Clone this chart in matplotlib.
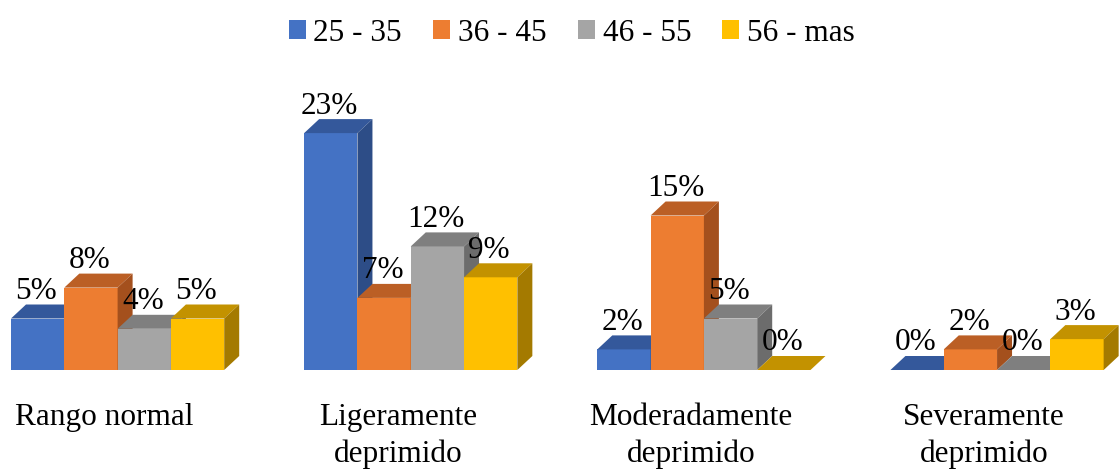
#!/usr/bin/env python3

import matplotlib
matplotlib.use("Agg")
import matplotlib.pyplot as plt
from matplotlib.patches import Polygon, Patch

# data (percent)
categories = ["Rango normal", "Ligeramente\ndeprimido",
              "Moderadamente\ndeprimido", "Severamente\ndeprimido"]
ranges = ["25 - 35", "36 - 45", "46 - 55", "56 - mas"]
v_25_35 = [5, 23, 2, 0]
v_36_45 = [8, 7, 15, 2]
v_46_55 = [4, 12, 5, 0]
v_56_mas = [5, 9, 0, 3]

# front / top / side shades, Excel style
FRONT = ["#4472C4", "#ED7D31", "#A5A5A5", "#FFC000"]
TOP = ["#34589B", "#BB5F25", "#7F7F7F", "#C39200"]
SIDE = ["#2D4D87", "#A4501D", "#6C6C6C", "#A47A00"]

W, H = 1119, 469
PX_X = 53.3    # pixels per bar width
PX_Y = 10.3    # pixels per percent
BASE_PX = 99   # baseline from bottom
LEFT_PX = 11   # left edge of first bar
DX = 15 / PX_X
DY = 14 / PX_Y
GROUP = 5.5    # 4 bars + 150% gap

plt.rcParams["font.family"] = ["Liberation Serif", "DejaVu Serif"]
FS = 22.5

fig = plt.figure(figsize=(W / 100, H / 100), dpi=100)
ax = fig.add_axes([0, 0, 1, 1])
x_left = -2 - LEFT_PX / PX_X
ax.set_xlim(x_left, x_left + W / PX_X)
y_bot = -BASE_PX / PX_Y
ax.set_ylim(y_bot, y_bot + H / PX_Y)
ax.axis("off")

series = [v_25_35, v_36_45, v_46_55, v_56_mas]
centers = [i * GROUP for i in range(len(categories))]

for j, vals in enumerate(series):
    xs = [c + (j - 1.5) for c in centers]
    z = 2 + j * 3
    ax.bar(xs, vals, width=1.0, color=FRONT[j], linewidth=0, zorder=z)
    for x, h in zip(xs, vals):
        x0, x1 = x - 0.5, x + 0.5
        top = [(x0, h), (x1, h), (x1 + DX, h + DY), (x0 + DX, h + DY)]
        ax.add_patch(Polygon(top, closed=True, facecolor=TOP[j],
                             linewidth=0, zorder=z + 1))
        if h > 0:
            side = [(x1, 0), (x1 + DX, DY), (x1 + DX, h + DY), (x1, h)]
            ax.add_patch(Polygon(side, closed=True, facecolor=SIDE[j],
                                 linewidth=0, zorder=z + 1))
        ax.annotate(f"{h}%", (x, h + DY), xytext=(-1, 4),
                    textcoords="offset points", ha="center", va="baseline",
                    fontsize=FS, color="#000000", zorder=20)

for c, name in zip(centers, categories):
    ax.text(c - 13 / PX_X, -33 / PX_Y, name, ha="center", va="top",
            fontsize=FS, linespacing=1.34, multialignment="center")

handles = [Patch(facecolor=FRONT[j], linewidth=0) for j in range(4)]
fig.legend(handles, ranges, loc="upper center", bbox_to_anchor=(0.511, 1.02),
           ncol=4, frameon=False, fontsize=FS, handlelength=0.54,
           handleheight=0.54, handletextpad=0.25, columnspacing=1.0)

fig.savefig("out.png", dpi=100)
